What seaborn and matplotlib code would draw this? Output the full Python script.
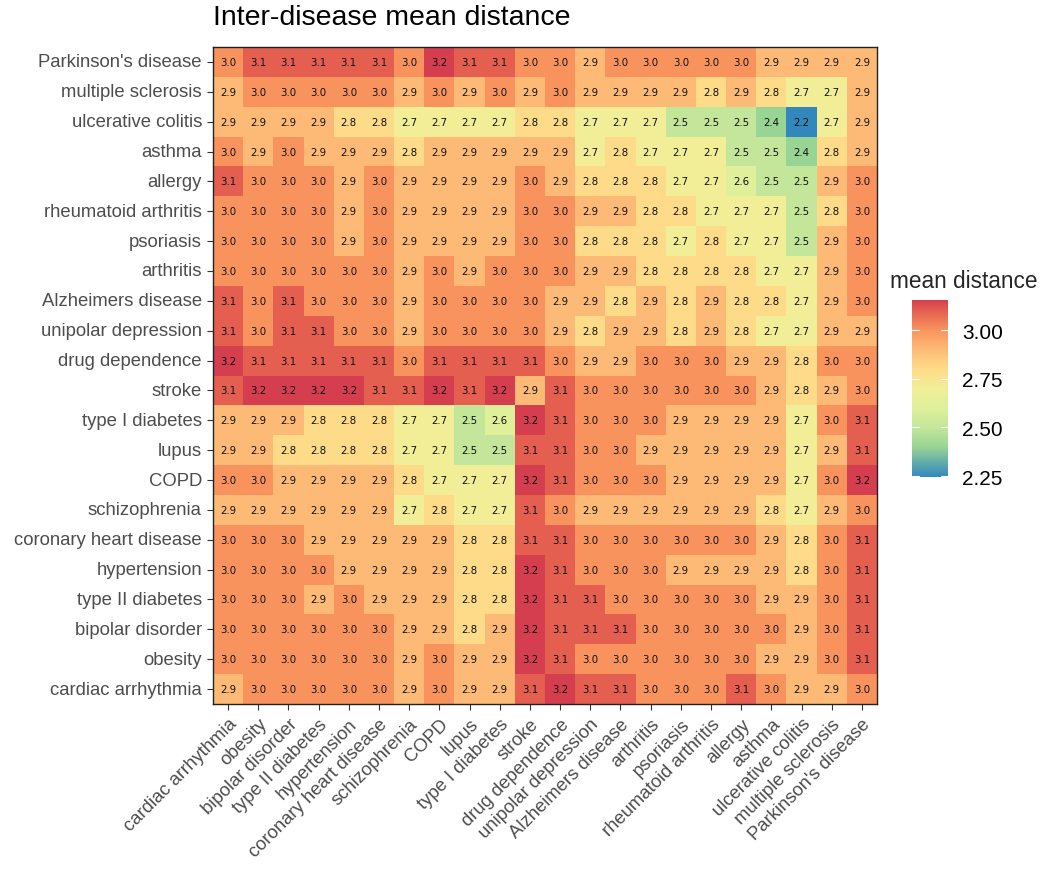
import numpy as np
import pandas as pd
import matplotlib
matplotlib.use("Agg")
import matplotlib.pyplot as plt
import seaborn as sns
from matplotlib.colors import LinearSegmentedColormap

rows = ["Parkinson's disease", "multiple sclerosis", "ulcerative colitis", "asthma", "allergy",
        "rheumatoid arthritis", "psoriasis", "arthritis", "Alzheimers disease", "unipolar depression",
        "drug dependence", "stroke", "type I diabetes", "lupus", "COPD", "schizophrenia",
        "coronary heart disease", "hypertension", "type II diabetes", "bipolar disorder", "obesity",
        "cardiac arrhythmia"]
cols = ["cardiac arrhythmia", "obesity", "bipolar disorder", "type II diabetes", "hypertension",
        "coronary heart disease", "schizophrenia", "COPD", "lupus", "type I diabetes", "stroke",
        "drug dependence", "unipolar depression", "Alzheimers disease", "arthritis", "psoriasis",
        "rheumatoid arthritis", "allergy", "asthma", "ulcerative colitis", "multiple sclerosis",
        "Parkinson's disease"]

parkinsons   = [3.0,3.1,3.1,3.1,3.1,3.1,3.0,3.2,3.1,3.1,3.0,3.0,2.9,3.0,3.0,3.0,3.0,3.0,2.9,2.9,2.9,2.9]
mult_scl     = [2.9,3.0,3.0,3.0,3.0,3.0,2.9,3.0,2.9,3.0,2.9,3.0,2.9,2.9,2.9,2.9,2.8,2.9,2.8,2.7,2.7,2.9]
ulc_colitis  = [2.9,2.9,2.9,2.9,2.8,2.8,2.7,2.7,2.7,2.7,2.8,2.8,2.7,2.7,2.7,2.5,2.5,2.5,2.4,2.2,2.7,2.9]
asthma       = [3.0,2.9,3.0,2.9,2.9,2.9,2.8,2.9,2.9,2.9,2.9,2.9,2.7,2.8,2.7,2.7,2.7,2.5,2.5,2.4,2.8,2.9]
allergy      = [3.1,3.0,3.0,3.0,2.9,3.0,2.9,2.9,2.9,2.9,3.0,2.9,2.8,2.8,2.8,2.7,2.7,2.6,2.5,2.5,2.9,3.0]
rheum_arth   = [3.0,3.0,3.0,3.0,2.9,3.0,2.9,2.9,2.9,2.9,3.0,3.0,2.9,2.9,2.8,2.8,2.7,2.7,2.7,2.5,2.8,3.0]
psoriasis    = [3.0,3.0,3.0,3.0,2.9,3.0,2.9,2.9,2.9,2.9,3.0,3.0,2.8,2.8,2.8,2.7,2.8,2.7,2.7,2.5,2.9,3.0]
arthritis    = [3.0,3.0,3.0,3.0,3.0,3.0,2.9,3.0,2.9,3.0,3.0,3.0,2.9,2.9,2.8,2.8,2.8,2.8,2.7,2.7,2.9,3.0]
alzheimers   = [3.1,3.0,3.1,3.0,3.0,3.0,2.9,3.0,3.0,3.0,3.0,2.9,2.9,2.8,2.9,2.8,2.9,2.8,2.8,2.7,2.9,3.0]
unipolar     = [3.1,3.0,3.1,3.1,3.0,3.0,2.9,3.0,3.0,3.0,3.0,2.9,2.8,2.9,2.9,2.8,2.9,2.8,2.7,2.7,2.9,2.9]
drug_dep     = [3.2,3.1,3.1,3.1,3.1,3.1,3.0,3.1,3.1,3.1,3.1,3.0,2.9,2.9,3.0,3.0,3.0,2.9,2.9,2.8,3.0,3.0]
stroke       = [3.1,3.2,3.2,3.2,3.2,3.1,3.1,3.2,3.1,3.2,2.9,3.1,3.0,3.0,3.0,3.0,3.0,3.0,2.9,2.8,2.9,3.0]
type1_diab   = [2.9,2.9,2.9,2.8,2.8,2.8,2.7,2.7,2.5,2.6,3.2,3.1,3.0,3.0,3.0,2.9,2.9,2.9,2.9,2.7,3.0,3.1]
lupus        = [2.9,2.9,2.8,2.8,2.8,2.8,2.7,2.7,2.5,2.5,3.1,3.1,3.0,3.0,2.9,2.9,2.9,2.9,2.9,2.7,2.9,3.1]
copd         = [3.0,3.0,2.9,2.9,2.9,2.9,2.8,2.7,2.7,2.7,3.2,3.1,3.0,3.0,3.0,2.9,2.9,2.9,2.9,2.7,3.0,3.2]
schizo       = [2.9,2.9,2.9,2.9,2.9,2.9,2.7,2.8,2.7,2.7,3.1,3.0,2.9,2.9,2.9,2.9,2.9,2.9,2.8,2.7,2.9,3.0]
chd          = [3.0,3.0,3.0,2.9,2.9,2.9,2.9,2.9,2.8,2.8,3.1,3.1,3.0,3.0,3.0,3.0,3.0,3.0,2.9,2.8,3.0,3.1]
hypertension = [3.0,3.0,3.0,3.0,2.9,2.9,2.9,2.9,2.8,2.8,3.2,3.1,3.0,3.0,3.0,2.9,2.9,2.9,2.9,2.8,3.0,3.1]
type2_diab   = [3.0,3.0,3.0,2.9,3.0,2.9,2.9,2.9,2.8,2.8,3.2,3.1,3.1,3.0,3.0,3.0,3.0,3.0,2.9,2.9,3.0,3.1]
bipolar      = [3.0,3.0,3.0,3.0,3.0,3.0,2.9,2.9,2.8,2.9,3.2,3.1,3.1,3.1,3.0,3.0,3.0,3.0,3.0,2.9,3.0,3.1]
obesity      = [3.0,3.0,3.0,3.0,3.0,3.0,2.9,3.0,2.9,2.9,3.2,3.1,3.0,3.0,3.0,3.0,3.0,3.0,2.9,2.9,3.0,3.1]
cardiac      = [2.9,3.0,3.0,3.0,3.0,3.0,2.9,3.0,2.9,2.9,3.1,3.2,3.1,3.1,3.0,3.0,3.0,3.1,3.0,2.9,2.9,3.0]

values = [parkinsons, mult_scl, ulc_colitis, asthma, allergy, rheum_arth, psoriasis, arthritis,
          alzheimers, unipolar, drug_dep, stroke, type1_diab, lupus, copd, schizo, chd,
          hypertension, type2_diab, bipolar, obesity, cardiac]
df = pd.DataFrame(values, index=rows, columns=cols)

cbar_ticks = [2.25, 2.50, 2.75, 3.00]

sns.set_theme(style="white")
plt.rcParams['font.family'] = ['Liberation Sans', 'DejaVu Sans']

# colour scale (Spectral-like, reversed) with anchor colours
vmin, vmax = 2.245, 3.155
anchors = [(2.245, "#3288bd"), (2.4, "#99d594"), (2.5, "#c4e69a"), (2.6, "#dff09a"),
           (2.7, "#f2ee98"), (2.8, "#fedc88"), (2.9, "#fdbb76"), (3.0, "#f9945e"),
           (3.1, "#e4604f"), (3.155, "#d53e4f")]
cmap = LinearSegmentedColormap.from_list(
    "spec", [((v - vmin) / (vmax - vmin), c) for v, c in anchors])

fig = plt.figure(figsize=(10.45, 8.7), dpi=100)
ax = fig.add_axes([213/1045, 1-705/870, 664/1045, 657/870])
cax = fig.add_axes([912/1045, 1-478/870, 36/1045, 177/870])

sns.heatmap(df, ax=ax, cbar_ax=cax, cmap=cmap, vmin=vmin, vmax=vmax,
            annot=True, fmt=".1f",
            annot_kws={"fontsize": 7.4, "color": "#111111", "family": ["DejaVu Sans"]},
            linewidths=0, square=False)

for s in ax.spines.values():
    s.set_visible(True)
    s.set_color("#222222")
    s.set_linewidth(1.0)

ax.set_xlabel("")
ax.set_ylabel("")
ax.tick_params(axis="both", which="major", length=4, width=0.8, color="#333333",
               labelsize=13.3, labelcolor="#4d4d4d", bottom=True, left=True, pad=4)
ax.set_xticklabels(cols, rotation=45, ha="right", rotation_mode="anchor")
ax.set_yticklabels(rows, rotation=0)
fig.text(213/1045, 1-18/870, "Inter-disease mean distance", fontsize=20.5, va="center",
         ha="left", color="black")

cax.set_yticks(cbar_ticks)
cax.set_yticklabels([f"{t:.2f}" for t in cbar_ticks])
cax.tick_params(length=0, labelsize=15, labelcolor="black", pad=10)
for s in cax.spines.values():
    s.set_visible(False)
for t in cbar_ticks:
    cax.axhline(t, xmin=0, xmax=0.2, color="white", lw=0.8)
    cax.axhline(t, xmin=0.8, xmax=1, color="white", lw=0.8)
fig.text(890/1045, 1-282/870, "mean distance", fontsize=16.3, va="center", ha="left")

fig.savefig("out.png", dpi=100)
